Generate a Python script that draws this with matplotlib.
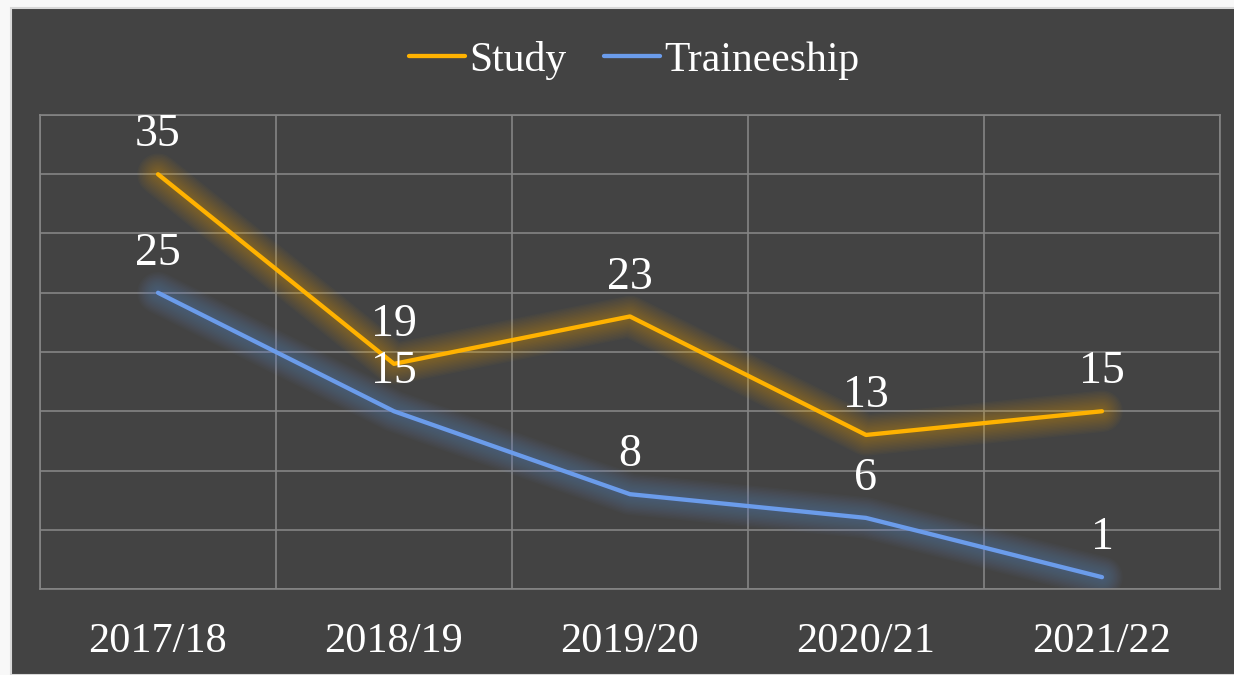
import matplotlib.pyplot as plt
from matplotlib.patches import Rectangle

years = ['2017/18', '2018/19', '2019/20', '2020/21', '2021/22']
study = [35, 19, 23, 13, 15]
traineeship = [25, 15, 8, 6, 1]

bg = '#434343'
grid_col = '#858585'
study_col = '#FFB200'
train_col = '#6B9CEB'

plt.rcParams['font.family'] = ['Liberation Serif', 'DejaVu Serif']

fig = plt.figure(figsize=(12.34, 6.75), dpi=100, facecolor='#f8f8f8')
fig.patches.append(Rectangle((11 / 1234, 0), 1, 1 - 8 / 675, transform=fig.transFigure,
                             facecolor=bg, edgecolor='#d8d8d8', linewidth=1.5, zorder=-1))

ax = fig.add_axes([40 / 1234, 86 / 675, 1180 / 1234, 474 / 675])
ax.set_facecolor(bg)

x = list(range(len(years)))

for vals, col in [(study, study_col), (traineeship, train_col)]:
    # soft glow under the line
    for w in range(30, 4, -2):
        ax.plot(x, vals, color=col, lw=w, alpha=0.028, solid_capstyle='round',
                solid_joinstyle='round', zorder=2)

ax.plot(x, study, color=study_col, lw=3.1, solid_capstyle='round', zorder=3, label='Study')
ax.plot(x, traineeship, color=train_col, lw=3.1, solid_capstyle='round', zorder=3,
        label='Traineeship')

for vals in [study, traineeship]:
    for xi, v in zip(x, vals):
        ax.annotate(str(v), (xi, v), xytext=(0, 20), textcoords='offset points',
                    ha='center', va='baseline', color='white', fontsize=33, zorder=4)

ax.set_xlim(-0.5, len(years) - 0.5)
ax.set_ylim(0, 40)
ax.set_yticks(range(0, 41, 5))
ax.set_xticks(x)
ax.set_xticklabels(years)
ax.set_xticks([i - 0.5 for i in range(len(years) + 1)], minor=True)
ax.grid(True, axis='y', color=grid_col, lw=1.2)
ax.grid(True, axis='x', which='minor', color=grid_col, lw=1.2)
ax.set_axisbelow(True)
ax.tick_params(axis='y', left=False, labelleft=False)
ax.tick_params(axis='x', which='both', length=0, pad=24, labelsize=30.5, labelcolor='white')
for s in ax.spines.values():
    s.set_color(grid_col)
    s.set_linewidth(1.2)

fig.legend(loc='center', bbox_to_anchor=(634 / 1234, 1 - 60 / 675), ncol=2, frameon=False,
           fontsize=30, labelcolor='white', handlelength=1.35, handletextpad=0.1,
           columnspacing=0.9)

fig.savefig('out.png', dpi=100, facecolor=fig.get_facecolor())
